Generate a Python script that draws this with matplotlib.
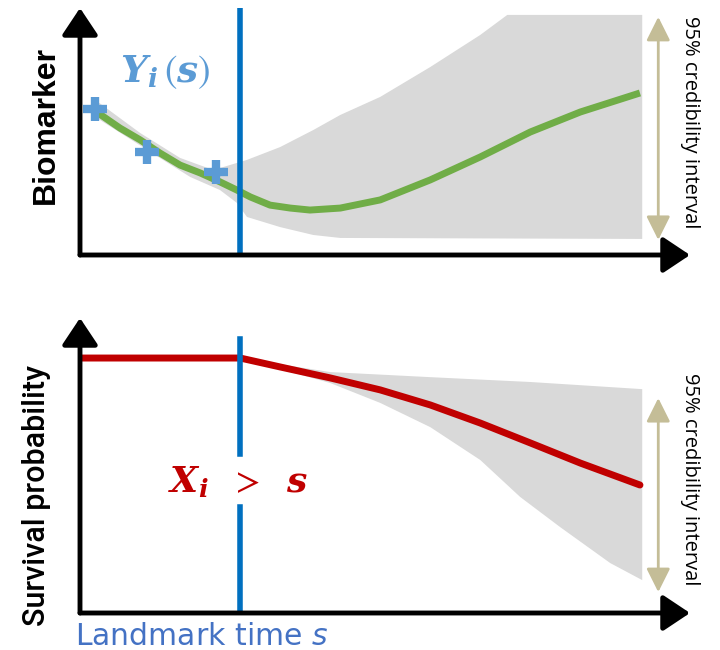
import numpy as np
import matplotlib
matplotlib.use("Agg")
import matplotlib.pyplot as plt

plt.rcParams['mathtext.fontset'] = 'custom'
plt.rcParams['mathtext.rm'] = 'STIXGeneral'
plt.rcParams['mathtext.it'] = 'DejaVu Sans:italic'
plt.rcParams['mathtext.bfit'] = 'DejaVu Serif:italic:bold'

# landmark time s
landmark_s = 2.85

# longitudinal biomarker: observed values, fitted trajectory, 95% band
obs_t = [0.27, 1.2, 2.42]
obs_y = [5.9, 4.15, 3.35]

fit_t = [0.27, 0.71, 1.07, 1.42, 1.78, 2.14, 2.49, 2.79, 3.03, 3.38, 3.74, 4.09,
         4.63, 5.34, 6.23, 7.12, 8.01, 8.90, 9.96]
fit_y = [5.83, 5.14, 4.66, 4.13, 3.64, 3.32, 2.96, 2.63, 2.35, 2.02, 1.90, 1.82,
         1.90, 2.23, 3.04, 3.97, 4.98, 5.79, 6.56]

bio_hi_t = [0.27, 1.07, 1.78, 2.37, 2.97, 3.56, 4.15, 4.63, 5.34, 6.23, 7.12, 7.60, 10.0]
bio_hi = [6.28, 4.94, 3.93, 3.44, 3.85, 4.37, 5.06, 5.67, 6.40, 7.61, 8.91, 9.72, 9.72]
bio_lo_t = [0.27, 1.42, 1.96, 2.49, 2.79, 2.97, 3.56, 4.15, 4.63, 10.0]
bio_lo = [5.59, 3.93, 3.16, 2.63, 2.11, 1.54, 1.13, 0.81, 0.69, 0.65]

# survival curve and its 95% band
surv_t = [0, 2.85, 3.56, 4.45, 5.34, 6.23, 7.12, 8.01, 8.90, 9.96]
surv_p = [1.0, 1.0, 0.965, 0.922, 0.875, 0.816, 0.745, 0.667, 0.588, 0.502]

surv_hi_t = [2.85, 4.45, 6.23, 8.01, 10.0]
surv_hi = [1.0, 0.945, 0.925, 0.906, 0.878]
surv_lo_t = [2.85, 4.45, 5.34, 6.23, 7.12, 7.83, 8.54, 9.43, 10.0]
surv_lo = [1.0, 0.902, 0.824, 0.729, 0.600, 0.455, 0.337, 0.196, 0.129]

grey = '#D9D9D9'
blue = '#0070C0'
tan = '#C4BD97'

fig = plt.figure(figsize=(7.2, 6.5), dpi=100)
ax1 = fig.add_axes([80 / 720, 1 - 255 / 650, 610 / 720, 247 / 650])
ax2 = fig.add_axes([80 / 720, 1 - 613 / 650, 610 / 720, 295 / 650])

ax1.set_xlim(0, 10.85)
ax1.set_ylim(0, 10)
ax2.set_xlim(0, 10.85)
ax2.set_ylim(0, 1.157)


def draw_axes(ax):
    for sp in ax.spines.values():
        sp.set_visible(False)
    ax.set_xticks([])
    ax.set_yticks([])
    style = '-|>,head_length=0.75,head_width=0.5'
    for end in [(0, 1), (1, 0)]:
        ax.annotate('', xy=end, xytext=(0, 0), xycoords='axes fraction',
                    arrowprops=dict(arrowstyle=style, lw=3.5, color='black',
                                    mutation_scale=22, shrinkA=0, shrinkB=0),
                    annotation_clip=False, zorder=6)


def interval_arrow(ax, lo, hi, text_y):
    ax.annotate('', xy=(0.948, hi), xytext=(0.948, lo),
                xycoords=('axes fraction', 'data'),
                arrowprops=dict(arrowstyle='<|-|>,head_length=0.9,head_width=0.45',
                                lw=2, color=tan, mutation_scale=16,
                                shrinkA=0, shrinkB=0))
    ax.text(1.0, text_y, '95% credibility interval', transform=ax.transAxes,
            rotation=270, ha='center', va='center', fontsize=14.5,
            family=['Open Sans', 'DejaVu Sans'], color='black')


# top panel: biomarker
draw_axes(ax1)
band = np.column_stack([bio_hi_t + bio_lo_t[::-1], bio_hi + bio_lo[::-1]])
ax1.fill(band[:, 0], band[:, 1], color=grey, lw=0, zorder=1)
ax1.plot(fit_t, fit_y, color='#70AD47', lw=5, solid_capstyle='butt',
         solid_joinstyle='round', zorder=3)
ax1.plot(obs_t, obs_y, ls='none', marker='+', ms=17, mew=6, color='#5B9BD5', zorder=4)
ax1.axvline(landmark_s, color=blue, lw=4, zorder=5)
ax1.text(0.139, 0.741, r'$\mathbfit{Y_i}\,\mathrm{(}\mathbfit{s}\mathrm{)}$',
         transform=ax1.transAxes, ha='center', va='center', fontsize=27,
         color='#5B9BD5')
ax1.text(-0.056, 0.526, 'Biomarker', transform=ax1.transAxes, rotation=90,
         ha='center', va='center', fontsize=23, fontweight='bold',
         family='Liberation Sans')
interval_arrow(ax1, 0.61, 9.64, 0.538)

# bottom panel: survival
draw_axes(ax2)
band = np.column_stack([surv_hi_t + surv_lo_t[::-1], surv_hi + surv_lo[::-1]])
ax2.fill(band[:, 0], band[:, 1], color=grey, lw=0, zorder=1)
ax2.plot(surv_t, surv_p, color='#C00000', lw=5, solid_capstyle='round',
         solid_joinstyle='round', zorder=3)
ax2.plot([landmark_s, landmark_s], [1.075, 0.624], color=blue, lw=4, zorder=5)
ax2.plot([landmark_s, landmark_s], [0.416, 0], color=blue, lw=4, zorder=5)
ax2.text(0.259, 0.444, r'$\mathbfit{X_i}\;\;\mathrm{>}\;\;\mathbfit{s}$',
         transform=ax2.transAxes, ha='center', va='center', fontsize=26,
         color='#C00000')
ax2.text(-0.0705, 0.397, 'Survival probability', transform=ax2.transAxes,
         rotation=90, ha='center', va='center', fontsize=22, fontweight='medium',
         family=['Roboto', 'DejaVu Sans'])
ax2.text(-0.008, -0.078, r'Landmark time $s$', transform=ax2.transAxes,
         ha='left', va='center', fontsize=21.5, color='#4472C4',
         family='DejaVu Sans')
interval_arrow(ax2, 0.082, 0.843, 0.454)

fig.savefig('out.png', dpi=100)
